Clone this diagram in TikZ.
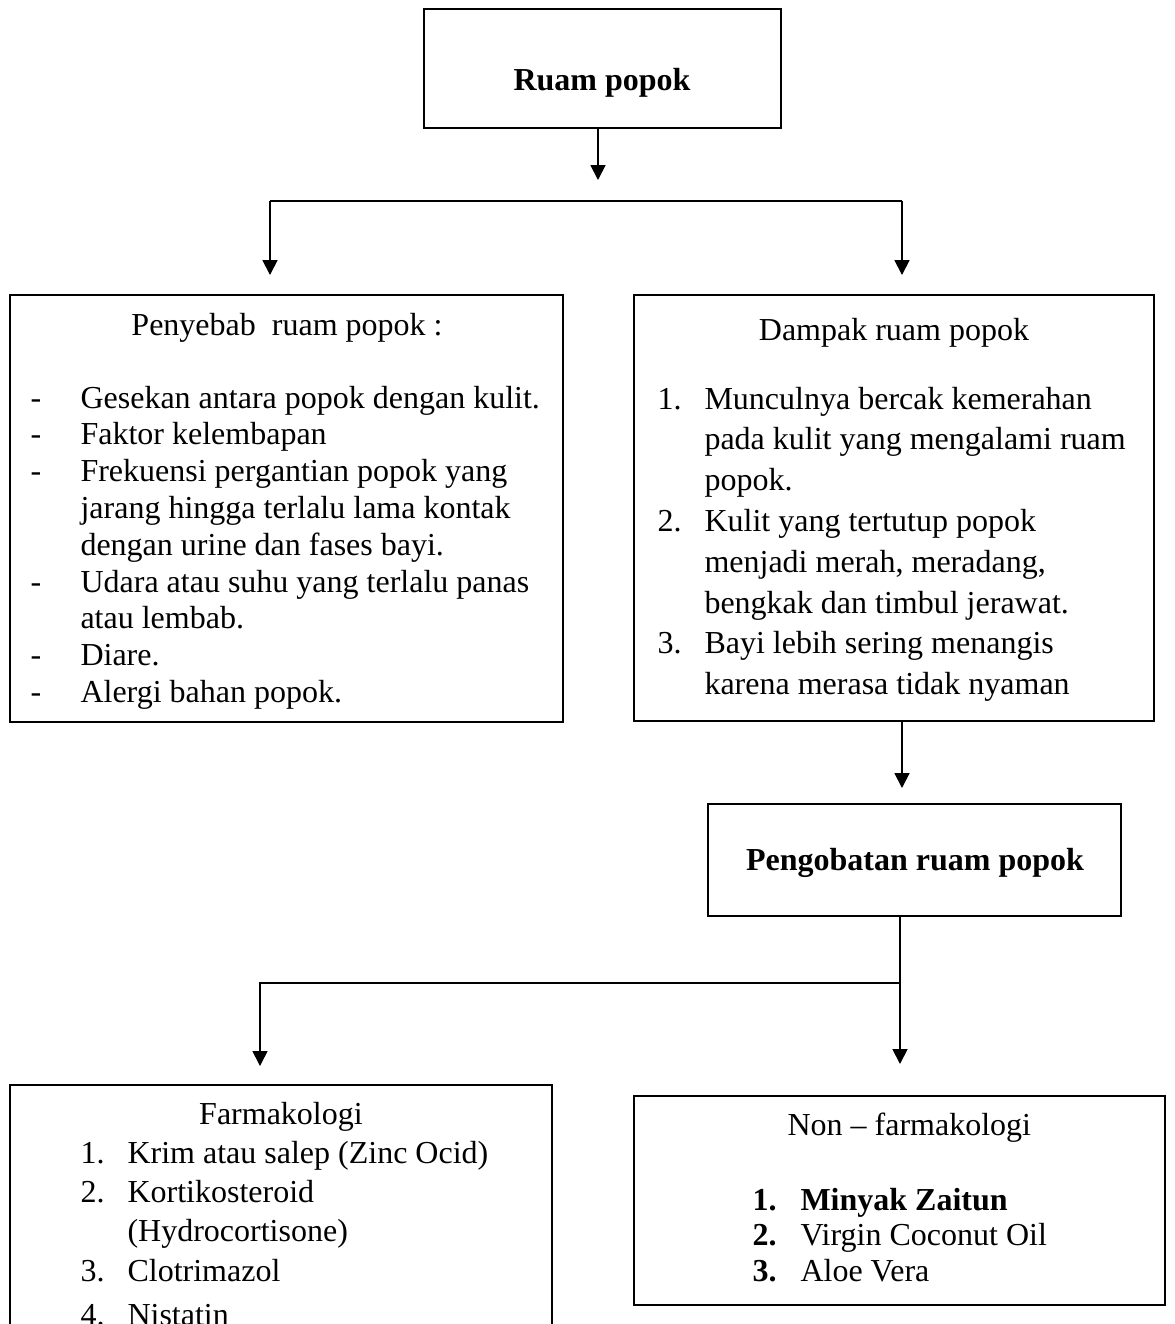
\documentclass[tikz,border=0pt]{standalone}
\usepackage{fontspec}
\setmainfont{Liberation Serif}
\usetikzlibrary{arrows.meta,fit}
\tikzset{
  box/.style={draw,line width=.7pt,inner sep=0pt},
  txt/.style={anchor=base west,inner sep=0pt,font=\fontsize{12}{14}\selectfont},
  ttl/.style={txt,anchor=base},
  bld/.style={font=\fontsize{12}{14}\selectfont\bfseries},
  arr/.style={line width=.7pt,-{Triangle[length=5.6pt,width=5.6pt]}}
}

\begin{document}
\begin{tikzpicture}[x=.375pt,y=-.375pt]
\useasboundingbox (0,0) rectangle (1175,1324); \clip (0,0) rectangle (1175,1324);
% boxes
\node[box,fit={(424,9)(781,128)}] (ruam) {};
\node[box,fit={(10,295)(563,722)}] (sebab) {};
\node[box,fit={(634,295)(1154,721)}] (dampak) {};
\node[box,fit={(708,804)(1121,916)}] (obat) {};
\node[box,fit={(10,1085)(552,1400)}] (farma) {};
\node[box,fit={(634,1096)(1165,1305)}] (nonfarma) {};

% top
\node[ttl,bld] (truam) at (602,90) {Ruam popok};
\coordinate (j0) at (598,180); \coordinate (hl) at (270,201); \coordinate (hr) at (902,201);
\coordinate (tl) at (270,275); \coordinate (tr) at (902,275);
\draw[arr] (ruam.south -| j0) -- (j0);
\draw[line width=.6pt] (hl) -- (hr); \draw[arr] (hl) -- (tl); \draw[arr] (hr) -- (tr);

% penyebab
\node[ttl] (tsebab) at (287,335) {Penyebab\ \ ruam popok :};
\foreach \i/\t in {0/Gesekan antara popok dengan kulit.,1/Faktor kelembapan,2/Frekuensi pergantian popok yang,
  3/jarang hingga terlalu lama kontak,4/dengan urine dan fases bayi.,5/Udara atau suhu yang terlalu panas,
  6/atau lembab.,7/Diare.,8/Alergi bahan popok.}
  \node[txt] (s\i) at (80,408+36.8*\i) {\t};
\foreach \i in {0,1,2,5,7,8} \node[txt] (m\i) at (30,408+36.8*\i) {-};

% dampak
\node[ttl] (tdampak) at (894,340) {Dampak ruam popok};
\foreach \i/\t in {0/Munculnya bercak kemerahan,1/pada kulit yang mengalami ruam,2/popok.,3/Kulit yang tertutup popok,
  4/{menjadi merah, meradang,},5/bengkak dan timbul jerawat.,6/Bayi lebih sering menangis,7/karena merasa tidak nyaman}
  \node[txt] (d\i) at (704,409+40.8*\i) {\t};
\foreach \i/\n in {0/1,3/2,6/3} \node[txt] (k\i) at (657,409+40.8*\i) {\n.};
\coordinate (j1) at (902,788);
\draw[arr] (dampak.south -| j1) -- (j1);

% pengobatan
\node[ttl,bld] (tobat) at (915,870) {Pengobatan ruam popok};
\coordinate (jb) at (900,983); \coordinate (j2) at (900,1064); \coordinate (j3) at (260,1066);
\draw[arr] (obat.south -| j2) -- (j2);
\draw[arr,line width=.6pt] (jb) -| (j3);

% farmakologi
\node[ttl] (tfarma) at (281,1124) {Farmakologi};
\foreach \i/\y/\t in {0/1163/Krim atau salep (Zinc Ocid),1/1202/Kortikosteroid,2/1241/(Hydrocortisone),
  3/1281/Clotrimazol,4/1325/Nistatin}
  \node[txt] (f\i) at (127,\y) {\t};
\foreach \i/\y/\n in {0/1163/1,1/1202/2,3/1281/3,4/1325/4} \node[txt] (g\i) at (80,\y) {\n.};

% non farmakologi
\node[txt] (tnon) at (787,1135) {Non – farmakologi};
\node[txt,bld] (n0) at (800,1210) {Minyak Zaitun};
\foreach \i/\t in {1/Virgin Coconut Oil,2/Aloe Vera} \node[txt] (n\i) at (800,1210+35.5*\i) {\t};
\foreach \i in {0,1,2} \node[txt,bld] (h\i) at (752,1210+35.5*\i) {\the\numexpr\i+1\relax.};
\end{tikzpicture}
\end{document}
